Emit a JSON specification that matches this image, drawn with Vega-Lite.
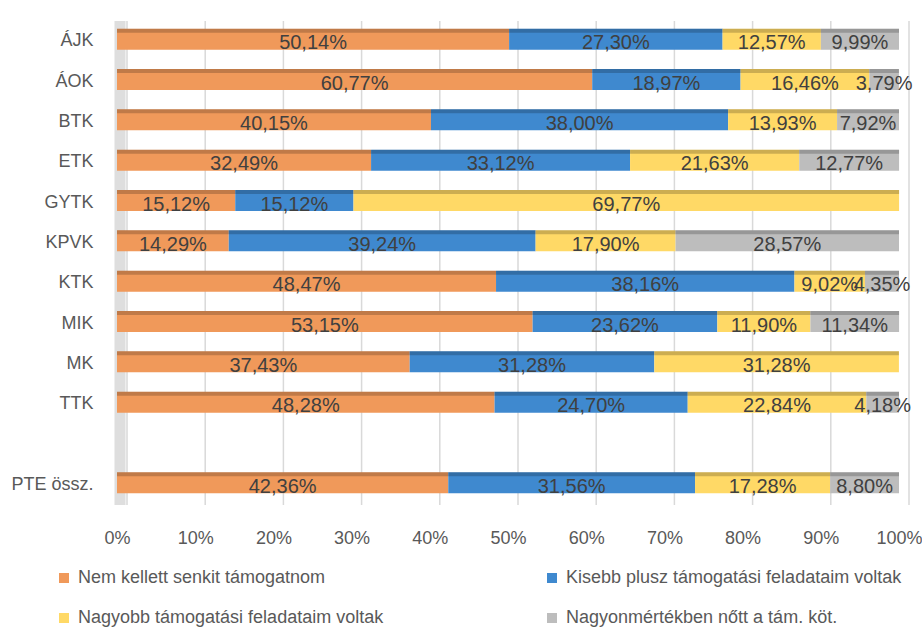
{
  "$schema": "https://vega.github.io/schema/vega-lite/v6.json",
  "autosize": {"type": "none"},
  "width": 782,
  "height": 484,
  "padding": {"left": 117, "top": 21, "right": 23, "bottom": 127},
  "background": "white",
  "config": {
    "view": {"stroke": null},
    "font": "Liberation Sans",
    "locale": {
      "number": {"decimal": ",", "thousands": " ", "grouping": [3], "currency": ["", " Ft"]}
    }
  },
  "data": {
    "values": [
      {"kar": "ÁJK", "kat": "Nem kellett senkit támogatnom", "n": 1, "v": 0.5014},
      {"kar": "ÁJK", "kat": "Kisebb plusz támogatási feladataim voltak", "n": 2, "v": 0.2730},
      {"kar": "ÁJK", "kat": "Nagyobb támogatási feladataim voltak", "n": 3, "v": 0.1257},
      {"kar": "ÁJK", "kat": "Nagyonmértékben nőtt a tám. köt.", "n": 4, "v": 0.0999},
      {"kar": "ÁOK", "kat": "Nem kellett senkit támogatnom", "n": 1, "v": 0.6077},
      {"kar": "ÁOK", "kat": "Kisebb plusz támogatási feladataim voltak", "n": 2, "v": 0.1897},
      {"kar": "ÁOK", "kat": "Nagyobb támogatási feladataim voltak", "n": 3, "v": 0.1646},
      {"kar": "ÁOK", "kat": "Nagyonmértékben nőtt a tám. köt.", "n": 4, "v": 0.0379},
      {"kar": "BTK", "kat": "Nem kellett senkit támogatnom", "n": 1, "v": 0.4015},
      {"kar": "BTK", "kat": "Kisebb plusz támogatási feladataim voltak", "n": 2, "v": 0.3800},
      {"kar": "BTK", "kat": "Nagyobb támogatási feladataim voltak", "n": 3, "v": 0.1393},
      {"kar": "BTK", "kat": "Nagyonmértékben nőtt a tám. köt.", "n": 4, "v": 0.0792},
      {"kar": "ETK", "kat": "Nem kellett senkit támogatnom", "n": 1, "v": 0.3249},
      {"kar": "ETK", "kat": "Kisebb plusz támogatási feladataim voltak", "n": 2, "v": 0.3312},
      {"kar": "ETK", "kat": "Nagyobb támogatási feladataim voltak", "n": 3, "v": 0.2163},
      {"kar": "ETK", "kat": "Nagyonmértékben nőtt a tám. köt.", "n": 4, "v": 0.1277},
      {"kar": "GYTK", "kat": "Nem kellett senkit támogatnom", "n": 1, "v": 0.1512},
      {"kar": "GYTK", "kat": "Kisebb plusz támogatási feladataim voltak", "n": 2, "v": 0.1512},
      {"kar": "GYTK", "kat": "Nagyobb támogatási feladataim voltak", "n": 3, "v": 0.6977},
      {"kar": "KPVK", "kat": "Nem kellett senkit támogatnom", "n": 1, "v": 0.1429},
      {"kar": "KPVK", "kat": "Kisebb plusz támogatási feladataim voltak", "n": 2, "v": 0.3924},
      {"kar": "KPVK", "kat": "Nagyobb támogatási feladataim voltak", "n": 3, "v": 0.1790},
      {"kar": "KPVK", "kat": "Nagyonmértékben nőtt a tám. köt.", "n": 4, "v": 0.2857},
      {"kar": "KTK", "kat": "Nem kellett senkit támogatnom", "n": 1, "v": 0.4847},
      {"kar": "KTK", "kat": "Kisebb plusz támogatási feladataim voltak", "n": 2, "v": 0.3816},
      {"kar": "KTK", "kat": "Nagyobb támogatási feladataim voltak", "n": 3, "v": 0.0902},
      {"kar": "KTK", "kat": "Nagyonmértékben nőtt a tám. köt.", "n": 4, "v": 0.0435},
      {"kar": "MIK", "kat": "Nem kellett senkit támogatnom", "n": 1, "v": 0.5315},
      {"kar": "MIK", "kat": "Kisebb plusz támogatási feladataim voltak", "n": 2, "v": 0.2362},
      {"kar": "MIK", "kat": "Nagyobb támogatási feladataim voltak", "n": 3, "v": 0.1190},
      {"kar": "MIK", "kat": "Nagyonmértékben nőtt a tám. köt.", "n": 4, "v": 0.1134},
      {"kar": "MK", "kat": "Nem kellett senkit támogatnom", "n": 1, "v": 0.3743},
      {"kar": "MK", "kat": "Kisebb plusz támogatási feladataim voltak", "n": 2, "v": 0.3128},
      {"kar": "MK", "kat": "Nagyobb támogatási feladataim voltak", "n": 3, "v": 0.3128},
      {"kar": "TTK", "kat": "Nem kellett senkit támogatnom", "n": 1, "v": 0.4828},
      {"kar": "TTK", "kat": "Kisebb plusz támogatási feladataim voltak", "n": 2, "v": 0.2470},
      {"kar": "TTK", "kat": "Nagyobb támogatási feladataim voltak", "n": 3, "v": 0.2284},
      {"kar": "TTK", "kat": "Nagyonmértékben nőtt a tám. köt.", "n": 4, "v": 0.0418},
      {"kar": "PTE össz.", "kat": "Nem kellett senkit támogatnom", "n": 1, "v": 0.4236},
      {"kar": "PTE össz.", "kat": "Kisebb plusz támogatási feladataim voltak", "n": 2, "v": 0.3156},
      {"kar": "PTE össz.", "kat": "Nagyobb támogatási feladataim voltak", "n": 3, "v": 0.1728},
      {"kar": "PTE össz.", "kat": "Nagyonmértékben nőtt a tám. köt.", "n": 4, "v": 0.0880}
    ]
  },
  "encoding": {
    "y": {
      "field": "kar",
      "type": "nominal",
      "scale": {
        "domain": ["ÁJK", "ÁOK", "BTK", "ETK", "GYTK", "KPVK", "KTK", "MIK", "MK", "TTK", " ", "PTE össz."],
        "paddingInner": 0,
        "paddingOuter": 0
      },
      "axis": {
        "title": null,
        "ticks": false,
        "domain": false,
        "labelFontSize": 18,
        "labelColor": "#595959",
        "labelPadding": 24
      }
    }
  },
  "layer": [
    {
      "data": {"values": [{"t": 0}, {"t": 0.1}, {"t": 0.2}, {"t": 0.3}, {"t": 0.4}, {"t": 0.5}, {"t": 0.6}, {"t": 0.7}, {"t": 0.8}, {"t": 0.9}, {"t": 1}]},
      "mark": {"type": "rule", "color": "#D9D9D9", "strokeWidth": 1.5, "xOffset": 10},
      "encoding": {
        "x": {
          "field": "t",
          "type": "quantitative",
          "scale": {"domain": [0, 1], "nice": false},
          "axis": {
            "title": null,
            "format": ".0%",
            "values": [0, 0.1, 0.2, 0.3, 0.4, 0.5, 0.6, 0.7, 0.8, 0.9, 1],
            "grid": false,
            "ticks": false,
            "domain": false,
            "labelFontSize": 18,
            "labelColor": "#595959",
            "labelPadding": 24,
            "labelFlush": false
          }
        },
        "y": null
      }
    },
    {
      "data": {"values": [{"t": 0}]},
      "mark": {"type": "rule", "color": "#DEDEDE", "strokeWidth": 11, "xOffset": 3},
      "encoding": {
        "x": {"field": "t", "type": "quantitative"},
        "y": null
      }
    },
    {
      "mark": {"type": "bar", "size": 21, "yOffset": -2},
      "encoding": {
        "x": {"field": "v", "type": "quantitative", "stack": "zero"},
        "color": {
          "field": "kat",
          "type": "nominal",
          "scale": {
            "domain": ["Nem kellett senkit támogatnom", "Kisebb plusz támogatási feladataim voltak", "Nagyobb támogatási feladataim voltak", "Nagyonmértékben nőtt a tám. köt."],
            "range": ["#F0995A", "#3F89CF", "#FFD966", "#BDBDBD"]
          },
          "legend": {
            "title": null,
            "orient": "none",
            "legendX": -62,
            "legendY": 548,
            "padding": 0,
            "columns": 2,
            "columnPadding": 159,
            "rowPadding": 22,
            "values": ["Nem kellett senkit támogatnom", "Nagyobb támogatási feladataim voltak", "Kisebb plusz támogatási feladataim voltak", "Nagyonmértékben nőtt a tám. köt."],
            "symbolType": "square",
            "symbolSize": 100,
            "symbolStrokeWidth": 0,
            "labelFontSize": 18,
            "labelColor": "#595959",
            "labelOffset": 5,
            "labelLimit": 400
          }
        },
        "order": {"field": "n", "type": "quantitative"}
      }
    },
    {
      "mark": {"type": "bar", "size": 4, "yOffset": -10.5, "color": "black", "opacity": 0.2},
      "encoding": {
        "x": {"field": "v", "type": "quantitative", "stack": "zero"},
        "detail": {"field": "kat"},
        "order": {"field": "n", "type": "quantitative"}
      }
    },
    {
      "mark": {"type": "text", "fontSize": 20, "color": "#404040", "baseline": "middle", "dy": 2},
      "encoding": {
        "x": {"field": "v", "type": "quantitative", "stack": "zero", "bandPosition": 0.5},
        "detail": {"field": "kat"},
        "order": {"field": "n", "type": "quantitative"},
        "text": {"field": "v", "type": "quantitative", "format": ".2%"}
      }
    }
  ]
}
